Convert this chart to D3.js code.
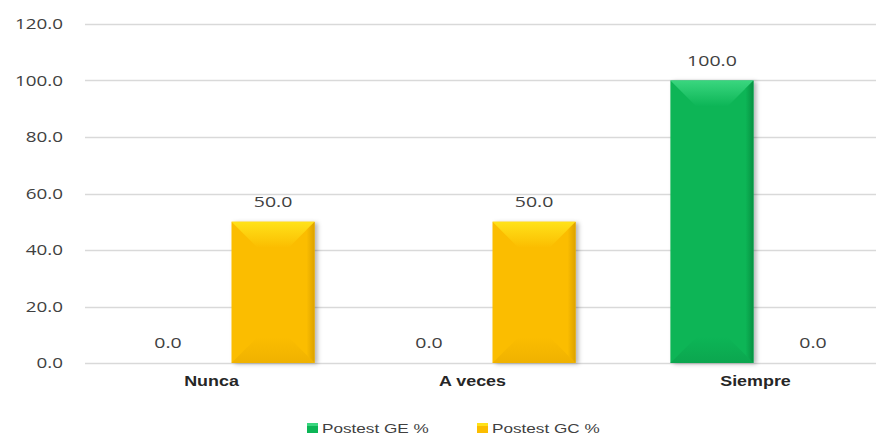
<!DOCTYPE html>
<html><head><meta charset="utf-8">
<script src="https://cdn.jsdelivr.net/npm/d3@7"></script>
<style>body{margin:0;background:#fff}svg{display:block}</style>
</head><body>
<svg id="c" width="887" height="435"></svg>
<script>
const categories = ["Nunca", "A veces", "Siempre"];
const seriesNames = ["Postest GE %", "Postest GC %"];
const valuesGE = [0.0, 0.0, 100.0];
const valuesGC = [50.0, 50.0, 0.0];
const yTicks = [0, 20, 40, 60, 80, 100, 120];

const seriesColors = {
  "Postest GE %": {key:"ge", main:"#0cb556", top:"#3ad67f", right:"#07883c", bottom:"#0a9c4a"},
  "Postest GC %": {key:"gc", main:"#fbbd00", top:"#ffe21a", right:"#d49b00", bottom:"#e8aa00"}
};
const seriesVals = {"Postest GE %": valuesGE, "Postest GC %": valuesGC};
const data = categories.map((c,i)=>({cat:c, vals:seriesNames.map(s=>({s, v:seriesVals[s][i]}))}));

const svg = d3.select("#c");
const SX = 1.3;
const y = d3.scaleLinear().domain([0,120]).range([363,24]);
const x0 = d3.scaleBand().domain(categories).range([101, 884]).paddingInner(0).paddingOuter(0);
const x1 = d3.scaleBand().domain(seriesNames).range([0, x0.bandwidth()]).paddingInner(0).paddingOuter(0.57);

function stext(g, x, yy, txt, opts){
  return g.append("g").attr("transform", `translate(${x},${yy}) scale(${opts.sx||SX},1)`)
    .append("text").attr("x",0).attr("y",0).text(txt)
    .attr("text-anchor", opts.anchor||"middle")
    .attr("font-family", opts.family||"'Open Sans', sans-serif")
    .attr("font-size", opts.size||15)
    .attr("font-weight", opts.weight||"normal")
    .attr("fill", opts.fill||"#404040");
}

const defs = svg.append("defs");
const f = defs.append("filter").attr("id","sh").attr("x","-20%").attr("y","-20%").attr("width","150%").attr("height","140%");
f.append("feDropShadow").attr("dx",3).attr("dy",1).attr("stdDeviation",2).attr("flood-color","#000").attr("flood-opacity",0.28);
seriesNames.forEach(s=>{
  const c = seriesColors[s];
  const gt = defs.append("linearGradient").attr("id","top-"+c.key).attr("x1",0).attr("y1",0).attr("x2",0).attr("y2",1);
  gt.append("stop").attr("offset","0%").attr("stop-color",c.top);
  gt.append("stop").attr("offset","100%").attr("stop-color",c.main);
  const gr = defs.append("linearGradient").attr("id","right-"+c.key).attr("x1",0).attr("y1",0).attr("x2",1).attr("y2",0);
  gr.append("stop").attr("offset","0%").attr("stop-color",c.main);
  gr.append("stop").attr("offset","100%").attr("stop-color",c.right);
  const gb = defs.append("linearGradient").attr("id","bot-"+c.key).attr("x1",0).attr("y1",0).attr("x2",0).attr("y2",1);
  gb.append("stop").attr("offset","0%").attr("stop-color",c.main);
  gb.append("stop").attr("offset","100%").attr("stop-color",c.bottom);
});

// gridlines
const grid = svg.append("g");
grid.selectAll("line").data(yTicks).join("line")
  .attr("x1",85).attr("x2",876)
  .attr("y1",d=>Math.round(y(d))+0.5).attr("y2",d=>Math.round(y(d))+0.5)
  .attr("stroke","#d9d9d9").attr("stroke-width",1.5);

// y tick labels
const yl = svg.append("g");
yTicks.forEach(t=>stext(yl, 63, y(t)+5, d3.format(".1f")(t), {anchor:"end", size:14.5}));

// bars
const bars = svg.append("g");
data.forEach(d=>{
  d.vals.forEach(sv=>{
    const bx = x0(d.cat) + x1(sv.s);
    const bw = x1.bandwidth();
    const by = y(sv.v);
    const bh = y(0) - by;
    const lx = bx + bw/2;
    if (bh > 0) {
      const c = seriesColors[sv.s];
      const g = bars.append("g");
      g.append("rect").attr("x",bx).attr("y",by).attr("width",bw).attr("height",bh).attr("fill",c.main).attr("filter","url(#sh)");
      const b = Math.min(26, bw/2, bh/2);
      const x2 = bx+bw, y2 = by+bh;
      const r = 8;
      g.append("polygon").attr("points",`${bx},${by} ${x2},${by} ${x2-b},${by+b} ${bx+b},${by+b}`).attr("fill",`url(#top-${c.key})`);
      g.append("polygon").attr("points",`${x2},${by} ${x2},${y2} ${x2-r},${y2-r} ${x2-r},${by+r}`).attr("fill",`url(#right-${c.key})`).attr("opacity",0.8);
      g.append("polygon").attr("points",`${bx},${y2} ${x2},${y2} ${x2-b},${y2-b} ${bx+b},${y2-b}`).attr("fill",`url(#bot-${c.key})`).attr("opacity",0.6);
    }
    const off = sv.v === 0 ? (sv.s === seriesNames[0] ? -22 : 18) : 0;
    stext(bars, lx + off, by - 15, d3.format(".1f")(sv.v), {size:15});
  });
});

// category labels
const cl = svg.append("g");
const catOff = [-20, -20, 2];
categories.forEach((c,i)=>stext(cl, x0(c)+x0.bandwidth()/2 + catOff[i], 386, c, {family:"'Liberation Sans', Arial, sans-serif", size:14, weight:"bold", fill:"#262626", sx:1.28}));

// legend
const lg = svg.append("g");
const legendX = [307, 477];
seriesNames.forEach((s,i)=>{
  const c = seriesColors[s];
  lg.append("rect").attr("x",legendX[i]).attr("y",423).attr("width",11).attr("height",10).attr("fill",c.main);
  lg.append("rect").attr("x",legendX[i]).attr("y",423).attr("width",11).attr("height",3).attr("fill",c.top);
  stext(lg, legendX[i]+15, 433, s, {anchor:"start", family:"'Liberation Sans', Arial, sans-serif", size:13, fill:"#404040", sx:1.32});
  const ux = legendX[i]+15;
  const pts = d3.range(0, 52, 3).map(k=>[ux+k, 436.5 + (k%6===0?0:1.2)]);
  lg.append("path").attr("d", d3.line()(pts)).attr("stroke","#e03a3a").attr("stroke-width",1).attr("fill","none");
});
</script>
</body></html>
